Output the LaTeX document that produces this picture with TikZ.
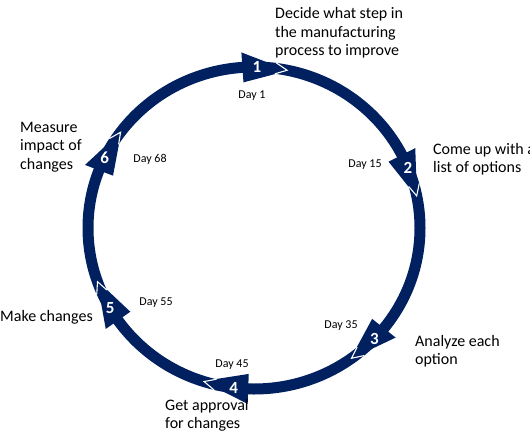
\documentclass[tikz,border=0pt]{standalone}
\usepackage{fontspec}
\setmainfont{Carlito}
\definecolor{navy}{RGB}{0,32,96}
\begin{document}
\begin{tikzpicture}[x=1pt,y=-1pt,
  lbl/.style={font=\fontsize{16}{18.5}\selectfont, align=left, anchor=west, inner sep=0pt, text=black},
  day/.style={font=\fontsize{12}{14}\selectfont, inner sep=0pt, text=black},
  num/.style={font=\fontsize{17}{17}\selectfont\bfseries, text=white, inner sep=0pt}]
\useasboundingbox (0,0) rectangle (530,442);
\def\cx{254}\def\cy{228}\def\rx{166}\def\ry{161}
\draw[navy, line width=11pt] (\cx,\cy) ellipse [x radius=\rx, y radius=\ry];
\foreach \t/\n in {94/1, 27/2, -38.5/3, -92/4, -145/5, 159/6}{
  \fill[navy] ({\cx+(\rx+15)*cos(\t)},{\cy-(\ry+15)*sin(\t)})
     -- ({\cx+\rx*cos(\t-16)},{\cy-\ry*sin(\t-16)})
     -- ({\cx+(\rx-15)*cos(\t)},{\cy-(\ry-15)*sin(\t)}) -- cycle;
  \draw[white, line width=1.1pt, line join=miter]
     ({\cx+(\rx+5.5)*cos(\t-11.5)},{\cy-(\ry+5.5)*sin(\t-11.5)})
     -- ({\cx+\rx*cos(\t-15.5)},{\cy-\ry*sin(\t-15.5)})
     -- ({\cx+(\rx-5.5)*cos(\t-11.5)},{\cy-(\ry-5.5)*sin(\t-11.5)});
  \node[num] (n\n) at ({\cx+\rx*cos(\t-5)},{\cy-\ry*sin(\t-5)}) {\n};
}
\node[lbl] (l1) at (275,33) {Decide what step in\\the manufacturing\\process to improve};
\node[lbl] (l2) at (433,159) {Come up with a\\list of options};
\node[lbl] (l3) at (415,351) {Analyze each\\option};
\node[lbl] (l4) at (165,415.5) {Get approval\\for changes};
\node[lbl] (l5) at (0,317) {Make changes};
\node[lbl] (l6) at (20,147) {Measure\\impact of\\changes};
\node[day] (d1) at (252,96) {Day 1};
\node[day] (d2) at (365,165) {Day 15};
\node[day] (d3) at (341,326) {Day 35};
\node[day] (d4) at (232,365) {Day 45};
\node[day] (d5) at (156,303) {Day 55};
\node[day] (d6) at (150,159) {Day 68};
\end{tikzpicture}
\end{document}
